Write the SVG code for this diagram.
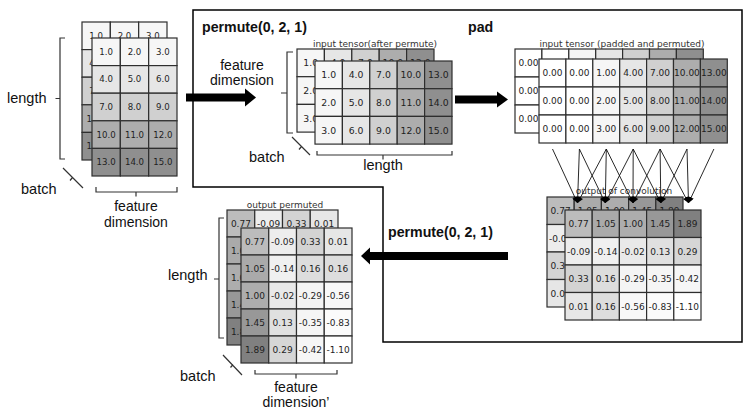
<svg xmlns="http://www.w3.org/2000/svg" xmlns:xlink="http://www.w3.org/1999/xlink" width="756" height="410" viewBox="0 0 756 410">
<style>
.c{stroke:#2e2e2e;stroke-width:1.2}
.n{font-family:"DejaVu Sans",sans-serif;text-anchor:middle;fill:#1e1e1e}
.lbl{font-family:"Liberation Sans",Arial,sans-serif;font-size:14.5px;fill:#111}
.l2{font-family:"Liberation Sans",Arial,sans-serif;font-size:14px;fill:#111;text-anchor:middle}
.mid{text-anchor:middle}
.cap{font-family:"DejaVu Sans",sans-serif;font-size:9px;text-anchor:middle;fill:#333}
.bold{font-family:"Liberation Sans",Arial,sans-serif;font-weight:bold;font-size:14.2px;fill:#111}
.brk{fill:none;stroke:#333;stroke-width:1.2}
.big{fill:#000}
.conn{stroke:#111;stroke-width:0.9;fill:none;marker-end:url(#ah)}
</style>
<defs>
<marker id="ah" viewBox="0 0 10 10" refX="10" refY="5" markerWidth="7" markerHeight="6" orient="auto" markerUnits="userSpaceOnUse">
<path d="M0,0 L10,5 L0,10 z" fill="#000"/>
</marker>
<g id="tA">
<rect class="c" x="0" y="0" width="28.33" height="27.6" fill="#f6f6f6"/><rect class="c" x="28.33" y="0" width="28.33" height="27.6" fill="#f6f6f6"/><rect class="c" x="56.67" y="0" width="28.33" height="27.6" fill="#f6f6f6"/>
<rect class="c" x="0" y="27.6" width="28.33" height="27.6" fill="#e6e6e6"/><rect class="c" x="28.33" y="27.6" width="28.33" height="27.6" fill="#e6e6e6"/><rect class="c" x="56.67" y="27.6" width="28.33" height="27.6" fill="#e6e6e6"/>
<rect class="c" x="0" y="55.2" width="28.33" height="27.6" fill="#d0d0d0"/><rect class="c" x="28.33" y="55.2" width="28.33" height="27.6" fill="#d0d0d0"/><rect class="c" x="56.67" y="55.2" width="28.33" height="27.6" fill="#d0d0d0"/>
<rect class="c" x="0" y="82.8" width="28.33" height="27.6" fill="#adadad"/><rect class="c" x="28.33" y="82.8" width="28.33" height="27.6" fill="#adadad"/><rect class="c" x="56.67" y="82.8" width="28.33" height="27.6" fill="#adadad"/>
<rect class="c" x="0" y="110.4" width="28.33" height="27.6" fill="#8f8f8f"/><rect class="c" x="28.33" y="110.4" width="28.33" height="27.6" fill="#8f8f8f"/><rect class="c" x="56.67" y="110.4" width="28.33" height="27.6" fill="#8f8f8f"/>
<g class="n" font-size="8.6">
<text x="14.17" y="16.8">1.0</text><text x="42.5" y="16.8">2.0</text><text x="70.83" y="16.8">3.0</text>
<text x="14.17" y="44.4">4.0</text><text x="42.5" y="44.4">5.0</text><text x="70.83" y="44.4">6.0</text>
<text x="14.17" y="72">7.0</text><text x="42.5" y="72">8.0</text><text x="70.83" y="72">9.0</text>
<text x="14.17" y="99.6">10.0</text><text x="42.5" y="99.6">11.0</text><text x="70.83" y="99.6">12.0</text>
<text x="14.17" y="127.2">13.0</text><text x="42.5" y="127.2">14.0</text><text x="70.83" y="127.2">15.0</text>
</g>
</g>
<g id="tB">
<rect class="c" x="0" y="0" width="27.4" height="27.7" fill="#f6f6f6"/><rect class="c" x="27.4" y="0" width="27.4" height="27.7" fill="#e6e6e6"/><rect class="c" x="54.8" y="0" width="27.4" height="27.7" fill="#d0d0d0"/><rect class="c" x="82.2" y="0" width="27.4" height="27.7" fill="#adadad"/><rect class="c" x="109.6" y="0" width="27.4" height="27.7" fill="#8f8f8f"/>
<rect class="c" x="0" y="27.7" width="27.4" height="27.7" fill="#f6f6f6"/><rect class="c" x="27.4" y="27.7" width="27.4" height="27.7" fill="#e6e6e6"/><rect class="c" x="54.8" y="27.7" width="27.4" height="27.7" fill="#d0d0d0"/><rect class="c" x="82.2" y="27.7" width="27.4" height="27.7" fill="#adadad"/><rect class="c" x="109.6" y="27.7" width="27.4" height="27.7" fill="#8f8f8f"/>
<rect class="c" x="0" y="55.4" width="27.4" height="27.7" fill="#f6f6f6"/><rect class="c" x="27.4" y="55.4" width="27.4" height="27.7" fill="#e6e6e6"/><rect class="c" x="54.8" y="55.4" width="27.4" height="27.7" fill="#d0d0d0"/><rect class="c" x="82.2" y="55.4" width="27.4" height="27.7" fill="#adadad"/><rect class="c" x="109.6" y="55.4" width="27.4" height="27.7" fill="#8f8f8f"/>
<g class="n" font-size="9.3">
<text x="13.7" y="17.2">1.0</text><text x="41.1" y="17.2">4.0</text><text x="68.5" y="17.2">7.0</text><text x="95.9" y="17.2">10.0</text><text x="123.3" y="17.2">13.0</text>
<text x="13.7" y="44.9">2.0</text><text x="41.1" y="44.9">5.0</text><text x="68.5" y="44.9">8.0</text><text x="95.9" y="44.9">11.0</text><text x="123.3" y="44.9">14.0</text>
<text x="13.7" y="72.6">3.0</text><text x="41.1" y="72.6">6.0</text><text x="68.5" y="72.6">9.0</text><text x="95.9" y="72.6">12.0</text><text x="123.3" y="72.6">15.0</text>
</g>
</g>
<g id="tC">
<rect class="c" x="0" y="0" width="26.9" height="28" fill="#ffffff"/><rect class="c" x="26.9" y="0" width="26.9" height="28" fill="#ffffff"/><rect class="c" x="53.8" y="0" width="26.9" height="28" fill="#f6f6f6"/><rect class="c" x="80.7" y="0" width="26.9" height="28" fill="#e6e6e6"/><rect class="c" x="107.6" y="0" width="26.9" height="28" fill="#d0d0d0"/><rect class="c" x="134.5" y="0" width="26.9" height="28" fill="#adadad"/><rect class="c" x="161.4" y="0" width="26.9" height="28" fill="#8f8f8f"/>
<rect class="c" x="0" y="28" width="26.9" height="28" fill="#ffffff"/><rect class="c" x="26.9" y="28" width="26.9" height="28" fill="#ffffff"/><rect class="c" x="53.8" y="28" width="26.9" height="28" fill="#f6f6f6"/><rect class="c" x="80.7" y="28" width="26.9" height="28" fill="#e6e6e6"/><rect class="c" x="107.6" y="28" width="26.9" height="28" fill="#d0d0d0"/><rect class="c" x="134.5" y="28" width="26.9" height="28" fill="#adadad"/><rect class="c" x="161.4" y="28" width="26.9" height="28" fill="#8f8f8f"/>
<rect class="c" x="0" y="56" width="26.9" height="28" fill="#ffffff"/><rect class="c" x="26.9" y="56" width="26.9" height="28" fill="#ffffff"/><rect class="c" x="53.8" y="56" width="26.9" height="28" fill="#f6f6f6"/><rect class="c" x="80.7" y="56" width="26.9" height="28" fill="#e6e6e6"/><rect class="c" x="107.6" y="56" width="26.9" height="28" fill="#d0d0d0"/><rect class="c" x="134.5" y="56" width="26.9" height="28" fill="#adadad"/><rect class="c" x="161.4" y="56" width="26.9" height="28" fill="#8f8f8f"/>
<g class="n" font-size="9">
<text x="13.45" y="17.2">0.00</text><text x="40.35" y="17.2">0.00</text><text x="67.25" y="17.2">1.00</text><text x="94.15" y="17.2">4.00</text><text x="121.05" y="17.2">7.00</text><text x="147.95" y="17.2">10.00</text><text x="174.85" y="17.2">13.00</text>
<text x="13.45" y="45.2">0.00</text><text x="40.35" y="45.2">0.00</text><text x="67.25" y="45.2">2.00</text><text x="94.15" y="45.2">5.00</text><text x="121.05" y="45.2">8.00</text><text x="147.95" y="45.2">11.00</text><text x="174.85" y="45.2">14.00</text>
<text x="13.45" y="73.2">0.00</text><text x="40.35" y="73.2">0.00</text><text x="67.25" y="73.2">3.00</text><text x="94.15" y="73.2">6.00</text><text x="121.05" y="73.2">9.00</text><text x="147.95" y="73.2">12.00</text><text x="174.85" y="73.2">15.00</text>
</g>
</g>
<g id="tD">
<rect class="c" x="0" y="0" width="27.2" height="27.5" fill="#bcbcbc"/><rect class="c" x="27.2" y="0" width="27.2" height="27.5" fill="#aaaaaa"/><rect class="c" x="54.4" y="0" width="27.2" height="27.5" fill="#adadad"/><rect class="c" x="81.6" y="0" width="27.2" height="27.5" fill="#989898"/><rect class="c" x="108.8" y="0" width="27.2" height="27.5" fill="#808080"/>
<rect class="c" x="0" y="27.5" width="27.2" height="27.5" fill="#ededed"/><rect class="c" x="27.2" y="27.5" width="27.2" height="27.5" fill="#f0f0f0"/><rect class="c" x="54.4" y="27.5" width="27.2" height="27.5" fill="#e9e9e9"/><rect class="c" x="81.6" y="27.5" width="27.2" height="27.5" fill="#e0e0e0"/><rect class="c" x="108.8" y="27.5" width="27.2" height="27.5" fill="#d6d6d6"/>
<rect class="c" x="0" y="55" width="27.2" height="27.5" fill="#d3d3d3"/><rect class="c" x="27.2" y="55" width="27.2" height="27.5" fill="#dddddd"/><rect class="c" x="54.4" y="55" width="27.2" height="27.5" fill="#f4f4f4"/><rect class="c" x="81.6" y="55" width="27.2" height="27.5" fill="#f5f5f5"/><rect class="c" x="108.8" y="55" width="27.2" height="27.5" fill="#f6f6f6"/>
<rect class="c" x="0" y="82.5" width="27.2" height="27.5" fill="#e6e6e6"/><rect class="c" x="27.2" y="82.5" width="27.2" height="27.5" fill="#dddddd"/><rect class="c" x="54.4" y="82.5" width="27.2" height="27.5" fill="#f8f8f8"/><rect class="c" x="81.6" y="82.5" width="27.2" height="27.5" fill="#fbfbfb"/><rect class="c" x="108.8" y="82.5" width="27.2" height="27.5" fill="#ffffff"/>
<g class="n" font-size="9">
<text x="13.6" y="17">0.77</text><text x="40.8" y="17">1.05</text><text x="68" y="17">1.00</text><text x="95.2" y="17">1.45</text><text x="122.4" y="17">1.89</text>
<text x="13.6" y="44.5">-0.09</text><text x="40.8" y="44.5">-0.14</text><text x="68" y="44.5">-0.02</text><text x="95.2" y="44.5">0.13</text><text x="122.4" y="44.5">0.29</text>
<text x="13.6" y="72">0.33</text><text x="40.8" y="72">0.16</text><text x="68" y="72">-0.29</text><text x="95.2" y="72">-0.35</text><text x="122.4" y="72">-0.42</text>
<text x="13.6" y="99.5">0.01</text><text x="40.8" y="99.5">0.16</text><text x="68" y="99.5">-0.56</text><text x="95.2" y="99.5">-0.83</text><text x="122.4" y="99.5">-1.10</text>
</g>
</g>
<g id="tE">
<rect class="c" x="0" y="0" width="27.75" height="27" fill="#bcbcbc"/><rect class="c" x="27.75" y="0" width="27.75" height="27" fill="#ededed"/><rect class="c" x="55.5" y="0" width="27.75" height="27" fill="#d3d3d3"/><rect class="c" x="83.25" y="0" width="27.75" height="27" fill="#e6e6e6"/>
<rect class="c" x="0" y="27" width="27.75" height="27" fill="#aaaaaa"/><rect class="c" x="27.75" y="27" width="27.75" height="27" fill="#f0f0f0"/><rect class="c" x="55.5" y="27" width="27.75" height="27" fill="#dddddd"/><rect class="c" x="83.25" y="27" width="27.75" height="27" fill="#dddddd"/>
<rect class="c" x="0" y="54" width="27.75" height="27" fill="#adadad"/><rect class="c" x="27.75" y="54" width="27.75" height="27" fill="#e9e9e9"/><rect class="c" x="55.5" y="54" width="27.75" height="27" fill="#f4f4f4"/><rect class="c" x="83.25" y="54" width="27.75" height="27" fill="#f8f8f8"/>
<rect class="c" x="0" y="81" width="27.75" height="27" fill="#989898"/><rect class="c" x="27.75" y="81" width="27.75" height="27" fill="#e0e0e0"/><rect class="c" x="55.5" y="81" width="27.75" height="27" fill="#f5f5f5"/><rect class="c" x="83.25" y="81" width="27.75" height="27" fill="#fbfbfb"/>
<rect class="c" x="0" y="108" width="27.75" height="27" fill="#808080"/><rect class="c" x="27.75" y="108" width="27.75" height="27" fill="#d6d6d6"/><rect class="c" x="55.5" y="108" width="27.75" height="27" fill="#f6f6f6"/><rect class="c" x="83.25" y="108" width="27.75" height="27" fill="#ffffff"/>
<g class="n" font-size="9">
<text x="13.9" y="16.7">0.77</text><text x="41.6" y="16.7">-0.09</text><text x="69.4" y="16.7">0.33</text><text x="97.1" y="16.7">0.01</text>
<text x="13.9" y="43.7">1.05</text><text x="41.6" y="43.7">-0.14</text><text x="69.4" y="43.7">0.16</text><text x="97.1" y="43.7">0.16</text>
<text x="13.9" y="70.7">1.00</text><text x="41.6" y="70.7">-0.02</text><text x="69.4" y="70.7">-0.29</text><text x="97.1" y="70.7">-0.56</text>
<text x="13.9" y="97.7">1.45</text><text x="41.6" y="97.7">0.13</text><text x="69.4" y="97.7">-0.35</text><text x="97.1" y="97.7">-0.83</text>
<text x="13.9" y="124.7">1.89</text><text x="41.6" y="124.7">0.29</text><text x="69.4" y="124.7">-0.42</text><text x="97.1" y="124.7">-1.10</text>
</g>
</g>
</defs>
<rect width="756" height="410" fill="#ffffff"/>

<g id="process-box">
<path d="M193,10 H742 V342 H383 V187 H193 Z" fill="none" stroke="#000" stroke-width="1.5"/>
<text class="bold" x="202" y="32">permute(0, 2, 1)</text>
<text class="bold" x="468" y="32">pad</text>
</g>

<g id="input-tensor">
<use xlink:href="#tA" href="#tA" x="82" y="22"/>
<use xlink:href="#tA" href="#tA" x="92" y="38"/>
<path class="brk" d="M65,38 H60 V159 H65 M60,98.5 H55.5"/>
<path class="brk" d="M63,168 L83,188 M72.5,177.5 L70,180.5"/>
<path class="brk" d="M96,187 V192 H177 V187 M136,192 V196.5"/>
<text class="lbl" x="7" y="103">length</text>
<text class="lbl" x="21" y="194">batch</text>
<text class="l2" x="136" y="211">feature</text>
<text class="l2" x="136" y="226.5">dimension</text>
</g>

<g id="permuted-tensor">
<text class="cap" x="375" y="46.5">input tensor(after permute)</text>
<use xlink:href="#tB" href="#tB" x="297" y="49"/>
<use xlink:href="#tB" href="#tB" x="315" y="61"/>
<path class="brk" d="M293,52 H287 V133 H293 M287,93 H281"/>
<path class="brk" d="M292,137 L310,155 M301.5,146.5 L299,149.5"/>
<path class="brk" d="M317,151 V155 H452 V151 M383,155 V159.5"/>
<text class="l2" x="242" y="69.5">feature</text>
<text class="l2" x="242" y="85">dimension</text>
<text class="lbl" x="249" y="162">batch</text>
<text class="lbl mid" x="383" y="170">length</text>
</g>

<g id="padded-tensor">
<text class="cap" x="622" y="46.5">input tensor (padded and permuted)</text>
<use xlink:href="#tC" href="#tC" x="515" y="49"/>
<use xlink:href="#tC" href="#tC" x="539" y="59"/>
</g>

<g id="conv-output">
<text class="cap" x="624" y="194">output of convolution</text>
<use xlink:href="#tD" href="#tD" x="547" y="197"/>
<use xlink:href="#tD" href="#tD" x="565" y="210"/>
</g>

<g id="output-permuted">
<text class="cap" x="285" y="208" font-size="7.6">output permuted</text>
<use xlink:href="#tE" href="#tE" x="227" y="210"/>
<use xlink:href="#tE" href="#tE" x="241" y="228"/>
<path class="brk" d="M224,218 H219 V338 H224 M219,279 H214"/>
<path class="brk" d="M223,355 L242,375 M233,364.5 L230.5,367.5"/>
<path class="brk" d="M255,370 V374 H337 V370 M296,374 V378.5"/>
<text class="lbl" x="168" y="280">length</text>
<text class="lbl" x="180" y="381">batch</text>
<text class="l2" x="296" y="391.5">feature</text>
<text class="l2" x="296" y="407">dimension’</text>
</g>

<g id="connectors">
<polygon class="big" points="186,93.5 245,93.5 245,88.5 256,97.5 245,106.5 245,101.5 186,101.5"/>
<polygon class="big" points="455,95.5 497,95.5 497,91.5 508,99.5 497,107.5 497,103.5 455,103.5"/>
<polygon class="big" points="508,252 370,252 370,247.5 361,256 370,264.5 370,260 508,260"/>
<text class="bold" x="388" y="237">permute(0, 2, 1)</text>
<line class="conn" x1="552.5" y1="149" x2="577.5" y2="203"/>
<line class="conn" x1="579.4" y1="149" x2="577.5" y2="203"/>
<line class="conn" x1="606.3" y1="149" x2="577.5" y2="203"/>
<line class="conn" x1="579.4" y1="149" x2="605.3" y2="203"/>
<line class="conn" x1="606.3" y1="149" x2="605.3" y2="203"/>
<line class="conn" x1="633.2" y1="149" x2="605.3" y2="203"/>
<line class="conn" x1="606.3" y1="149" x2="633" y2="203"/>
<line class="conn" x1="633.2" y1="149" x2="633" y2="203"/>
<line class="conn" x1="660.1" y1="149" x2="633" y2="203"/>
<line class="conn" x1="633.2" y1="149" x2="660.8" y2="203"/>
<line class="conn" x1="660.1" y1="149" x2="660.8" y2="203"/>
<line class="conn" x1="687" y1="149" x2="660.8" y2="203"/>
<line class="conn" x1="660.1" y1="149" x2="688.5" y2="203"/>
<line class="conn" x1="687" y1="149" x2="688.5" y2="203"/>
<line class="conn" x1="713.9" y1="149" x2="688.5" y2="203"/>
</g>
</svg>
